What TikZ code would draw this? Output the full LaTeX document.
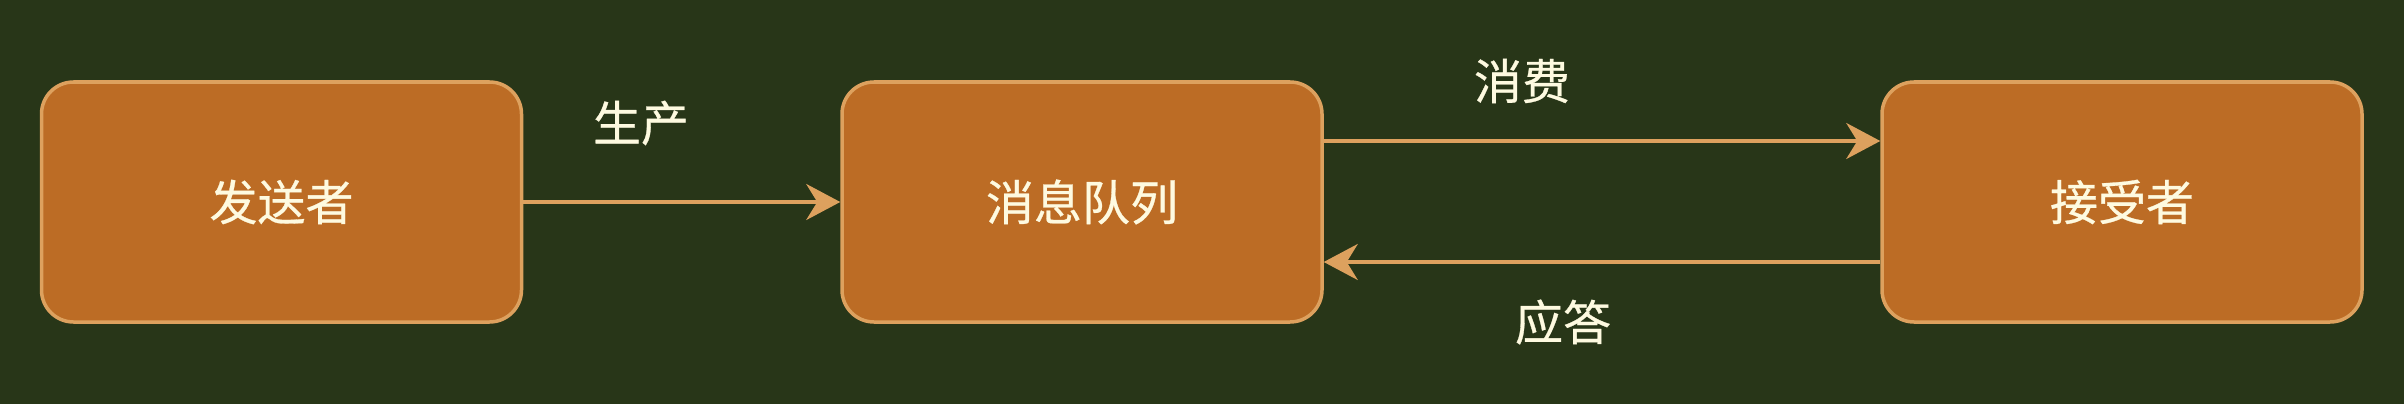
\documentclass[tikz,border=0pt]{standalone}
\usepackage{fontspec}
\setmainfont{Noto Sans CJK SC}[FakeBold=0.6]
\usetikzlibrary{arrows.meta}
\definecolor{bg}{HTML}{283618}
\definecolor{boxfill}{HTML}{BC6C25}
\definecolor{boxline}{HTML}{DDA15E}
\definecolor{txt}{HTML}{FEFAE0}
\begin{document}
\begin{tikzpicture}[x=1pt,y=-1pt,
  box/.style={draw=boxline, fill=boxfill, line width=3.5pt, rounded corners=32pt,
    minimum width=480pt, minimum height=240pt, inner sep=0pt, text=txt,
    font=\fontsize{48}{54}\selectfont},
  lbl/.style={text=txt, font=\fontsize{48}{54}\selectfont, inner sep=0pt},
  conn/.style={draw=boxline, line width=3.5pt,
    -{Stealth[length=34pt, width=36pt, inset=11pt]}}]
\fill[bg] (0,0) rectangle (2404,404);
\useasboundingbox (0,0) rectangle (2404,404);
\node[box] (s) at (281.5,202) {发送者};
\node[box] (q) at (1082,202) {消息队列};
\node[box] (r) at (2122,202) {接受者};
\draw[conn] (s.east) -- (q.west);
\draw[conn] ([yshift=61pt]q.east) -- ([yshift=61pt]r.west);
\draw[conn] ([yshift=-60pt]r.west) -- ([yshift=-60pt]q.east);
\node[lbl] (l1) at (641,123) {生产};
\node[lbl] (l2) at (1522,81) {消费};
\node[lbl] (l3) at (1563,322) {应答};
\end{tikzpicture}
\end{document}
